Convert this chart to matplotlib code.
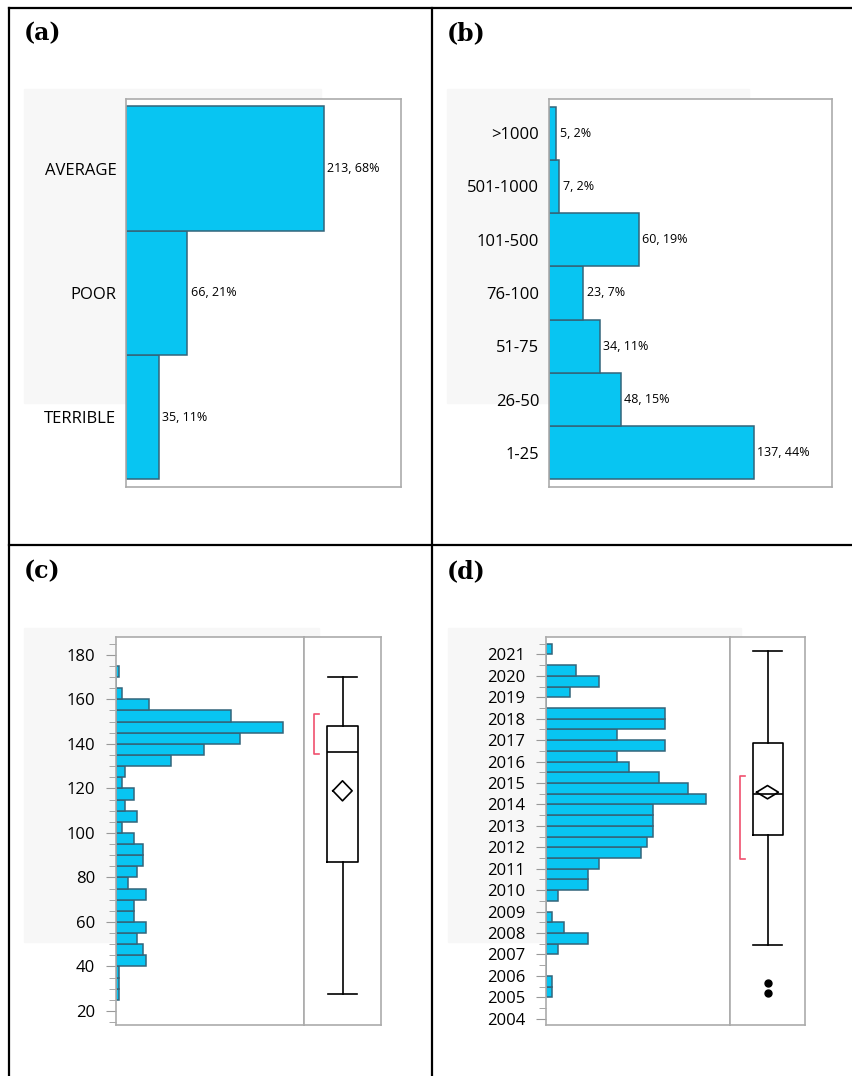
import numpy as np
import matplotlib
matplotlib.use("Agg")
import matplotlib.pyplot as plt
from matplotlib.lines import Line2D
from matplotlib.patches import Rectangle
from matplotlib.ticker import MultipleLocator

plt.rcParams['font.family'] = ['Open Sans', 'DejaVu Sans']

# (a) quality
quality = ['TERRIBLE', 'POOR', 'AVERAGE']
quality_n = [35, 66, 213]

# (b) size classes
size_cats = ['1-25', '26-50', '51-75', '76-100', '101-500', '501-1000', '>1000']
size_n = [137, 48, 34, 23, 60, 7, 5]

# (c) histogram, bin width 5, lower edges 25..170
c_bin_lo = [25, 30, 35, 40, 45, 50, 55, 60, 65, 70, 75, 80, 85, 90, 95,
            100, 105, 110, 115, 120, 125, 130, 135, 140, 145, 150, 155, 160, 165, 170]
c_counts = [1, 1, 1, 10, 9, 7, 10, 6, 6, 10, 4, 7, 9, 9, 6,
            2, 7, 3, 6, 2, 3, 18, 29, 41, 55, 38, 11, 2, 0, 1]
c_box = dict(whislo=27.8, q1=87.1, med=136.5, q3=147.9, whishi=170.0, fliers=[])
c_mean, c_mean_lo, c_mean_hi = 118.9, 114.4, 123.4
c_short = (135.6, 153.4)

# (d) histogram, bin width 0.5, lower edges 2005..2021
d_bin_lo = [2005.0, 2005.5, 2006.0, 2006.5, 2007.0, 2007.5, 2008.0, 2008.5, 2009.0,
            2009.5, 2010.0, 2010.5, 2011.0, 2011.5, 2012.0, 2012.5, 2013.0, 2013.5,
            2014.0, 2014.5, 2015.0, 2015.5, 2016.0, 2016.5, 2017.0, 2017.5, 2018.0,
            2018.5, 2019.0, 2019.5, 2020.0, 2020.5, 2021.0]
d_counts = [1, 1, 0, 0, 2, 7, 3, 1, 0,
            2, 7, 7, 9, 16, 17, 18, 18, 18,
            27, 24, 19, 14, 12, 20, 12, 20, 20,
            0, 4, 9, 5, 0, 1]
d_box = dict(whislo=2007.42, q1=2012.56, med=2014.50, q3=2016.87, whishi=2021.17,
             fliers=[2005.22, 2005.69])
d_mean, d_mean_lo, d_mean_hi = 2014.57, 2014.26, 2014.88
d_short = (2011.44, 2015.31)

BAR = '#08c5f2'
EDGE = '#33657a'
FRAME = '#ababab'
BG = '#f7f7f7'
W, H = 852, 1076

fig = plt.figure(figsize=(W / 100, H / 100), dpi=100)


def px_axes(x0, y0, x1, y1):
    return fig.add_axes([x0 / W, 1 - y1 / H, (x1 - x0) / W, (y1 - y0) / H])


def bg_rect(x0, y0, x1, y1):
    fig.patches.append(Rectangle((x0 / W, 1 - y1 / H), (x1 - x0) / W, (y1 - y0) / H,
                                 transform=fig.transFigure, color=BG, zorder=-5))


def fig_line(xs, ys):
    fig.add_artist(Line2D([x / W for x in xs], [1 - y / H for y in ys],
                          transform=fig.transFigure, color='black', lw=1.6))


def frame(ax):
    for s in ax.spines.values():
        s.set_color(FRAME)
        s.set_linewidth(1.2)


def cat_panel(ax, cats, n, xmax):
    total = sum(n)
    y = np.arange(len(cats))
    bars = ax.barh(y, n, height=1.0, color=BAR, edgecolor=EDGE, linewidth=1.1)
    labels = [f'{v}, {round(100 * v / total)}%' for v in n]
    ax.bar_label(bars, labels=labels, padding=2.5, fontsize=9)
    ax.set_yticks(y)
    ax.set_yticklabels(cats, fontsize=12)
    ax.set_xticks([])
    ax.tick_params(axis='y', length=0, pad=7)
    ax.set_xlim(0, xmax)
    # ~8 px of empty space above and below the bars
    p = 7.5 * len(cats) / 373
    ax.set_ylim(-0.5 - p, len(cats) - 0.5 + p)
    frame(ax)


def hist_panel(ax, lo, counts, bw, ylim, xmax, major, minor):
    ax.barh(lo, counts, height=bw, align='edge', color=BAR, edgecolor=EDGE, linewidth=1.1)
    ax.set_ylim(*ylim)
    ax.set_xlim(0, xmax)
    ax.set_xticks([])
    ax.yaxis.set_major_locator(MultipleLocator(major))
    ax.yaxis.set_minor_locator(MultipleLocator(minor))
    ax.tick_params(axis='y', which='major', length=7, color='#999999', labelsize=12, pad=8)
    ax.tick_params(axis='y', which='minor', length=5, color='#999999')
    frame(ax)


def box_panel(ax, stats, mean, mlo, mhi, short, ylim, dw):
    ax.bxp([stats], positions=[0.5], widths=0.4, capwidths=[0.38], showfliers=True,
           boxprops=dict(color='black', lw=1.2),
           medianprops=dict(color='black', lw=1.2),
           whiskerprops=dict(color='black', lw=1.2),
           capprops=dict(color='black', lw=1.2),
           flierprops=dict(marker='o', markerfacecolor='black', markeredgecolor='black',
                           markersize=5))
    ax.plot([0.5 - dw / 2, 0.5, 0.5 + dw / 2, 0.5, 0.5 - dw / 2],
            [mean, mhi, mean, mlo, mean], color='black', lw=1.2, zorder=4)
    ax.plot([0.195, 0.13, 0.13, 0.195], [short[0], short[0], short[1], short[1]],
            color='#f0506e', lw=1.2)
    ax.set_xlim(0, 1)
    ax.set_ylim(*ylim)
    ax.set_xticks([])
    ax.set_yticks([])
    ax.minorticks_off()
    frame(ax)


# light grey backdrops
bg_rect(24, 89, 321, 403)
bg_rect(447, 89, 749, 403)
bg_rect(24, 628, 319, 942)
bg_rect(448, 628, 741, 942)

# (a)
ax_a = px_axes(126, 99, 401, 487)
cat_panel(ax_a, quality, quality_n, 296)

# (b)
ax_b = px_axes(549, 99, 832, 487)
cat_panel(ax_b, size_cats, size_n, 189.5)

# (c)
c_ylim = (13.7, 188.0)
ax_c = px_axes(116, 637, 304, 1025)
hist_panel(ax_c, c_bin_lo, c_counts, 5, c_ylim, 62, 20, 5)
ax_cb = px_axes(304, 637, 381, 1025)
box_panel(ax_cb, c_box, c_mean, c_mean_lo, c_mean_hi, c_short, c_ylim, 0.25)

# (d)
d_ylim = (2003.71, 2021.81)
ax_d = px_axes(546, 637, 730, 1025)
hist_panel(ax_d, d_bin_lo, d_counts, 0.5, d_ylim, 31, 1, 0.5)
ax_db = px_axes(730, 637, 805, 1025)
box_panel(ax_db, d_box, d_mean, d_mean_lo, d_mean_hi, d_short, d_ylim, 0.29)

# panel letters
for lab, x, y in [('(a)', 24, 33), ('(b)', 447, 33), ('(c)', 24, 571), ('(d)', 447, 571)]:
    fig.text(x / W, 1 - y / H, lab, family='DejaVu Serif', weight='bold',
             fontsize=17, ha='left', va='center')

# grid borders
fig_line([8.5, 852], [7.5, 7.5])
fig_line([8.5, 8.5], [7.5, 1076])
fig_line([432, 432], [7.5, 1076])
fig_line([8.5, 852], [545, 545])

fig.savefig('out.png', dpi=100)
